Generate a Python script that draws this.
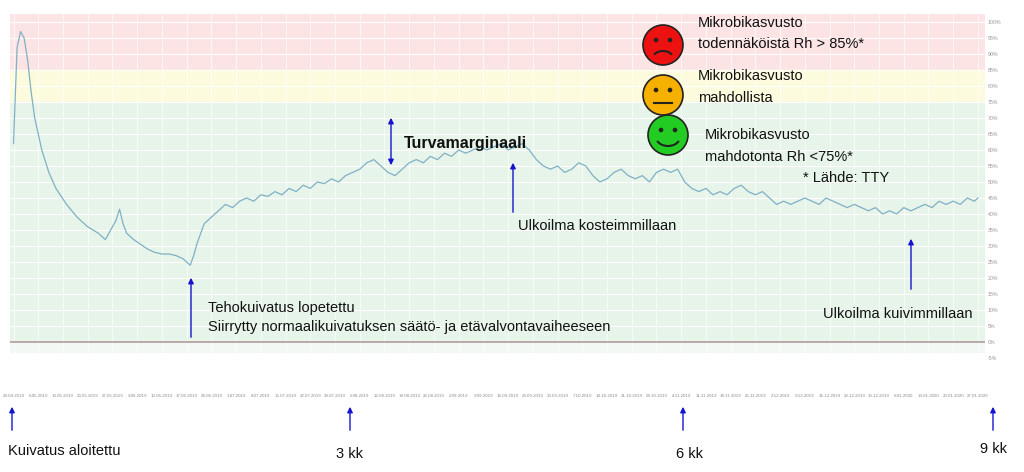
import numpy as np, pandas as pd, seaborn as sns, matplotlib
matplotlib.use("Agg")
import matplotlib.pyplot as plt
from matplotlib.patches import Circle, Arc
import datetime as dt
plt.rcParams["font.family"] = "Liberation Sans"

days = [0,1,2,3,4,5,6,8,10,12,15,18,21,24,26,27,28,29,30,31,32,34,36,38,40,42,44,46,48,49,50,51,52,53,54,56,58,60,62,64,66,68,70,72,74,76,78,80,82,84,86,88,90,92,94,96,98,100,102,104,106,108,110,112,114,116,118,120,122,124,126,128,130,132,134,136,138,140,142,144,146,148,150,152,154,156,158,160,162,164,166,168,170,172,174,176,178,180,182,184,186,188,190,192,194,196,198,200,202,204,206,208,210,212,214,216,218,220,222,224,226,228,230,232,234,236,238,240,242,244,246,248,250,252,254,256,258,260,262,264,266,268,270,272,273]
rh = [62,92,97,95,88,78,70,60,53,48,43,39,36,34,32,34,36,38,41.5,37,34,32,30.5,29,28,27.5,27.5,27,26,25,24,27,31,34,37,39,41,43,42,44,45,44,46,45.5,47,46,48,47,49,48,50,49.5,51,50,52,53,54,56,57,55,53,52,54,56,57,56,58,57,59,58,60,59,60,61,60,61,62,60,61,62,60,57,55,54,55,53,54,56,55,52,50,51,53,54,52,51,52,50,53,54,53,54,50,48,47,48,46,47,46,48,49,47,46,47,45,43,44,43,44,45,44,43,45,44,43,42,43,42,41,42,40,41,40,42,41,42,43,42,44,43,44,43,45,44,45]
start = dt.date(2019,4,29)
tick_labels = [(start+dt.timedelta(days=7*i)).strftime("%-d.%m.%Y") for i in range(40)]
y_labels = [f"{v}%" for v in range(-5,101,5)]

fig = plt.figure(figsize=(10.24,4.72), dpi=100)
ax = fig.add_axes([10/1024, 1-358/472, 975/1024, (358-14)/472])
ax.axhspan(85,103,color="#fde4e4",zorder=0)
ax.axhspan(75,85,color="#fdfbdd",zorder=0)
ax.axhspan(0,75,color="#e7f4e9",zorder=0)
ax.axhspan(-3,0,color="#f4f8f4",zorder=0)
for v in range(0,101,5):
    ax.axhline(v,color="white",lw=0.8,zorder=1)
for i in range(40):
    ax.axvline(7*i,color="white",lw=0.5,zorder=1)
ax.axhline(0,color="#b09a9a",lw=1.2,zorder=2)
df = pd.DataFrame({"day":days,"rh":rh})
sns.lineplot(data=df,x="day",y="rh",ax=ax,color="#7fb0c6",lw=0.9,zorder=3)
ax.set_xlim(-1,275); ax.set_ylim(-2,102.5)
ax.set_xticks([7*i for i in range(40)])
ax.set_xticklabels(tick_labels,fontsize=3.2,color="#888")
ax.tick_params(axis="x",length=0,pad=26)
ax.yaxis.tick_right()
ax.set_yticks(range(-5,101,5)); ax.set_yticklabels(y_labels,fontsize=3.8,color="#999")
ax.tick_params(axis="y",length=0,pad=2)
ax.set_xlabel(""); ax.set_ylabel("")
for s in ax.spines.values(): s.set_visible(False)

blue="#1515d0"
def px(x,y): return (x/1024, 1-y/472)
def farrow(x0,y0,x1,y1,both=False):
    fig.add_artist(matplotlib.patches.FancyArrowPatch(px(x0,y0),px(x1,y1),transform=fig.transFigure,
        arrowstyle="<|-|>" if both else "-|>",mutation_scale=8,color=blue,lw=1))
farrow(191,340,191,275)
farrow(391,168,391,115,both=True)
farrow(513,215,513,160)
farrow(911,292,911,236)
for x in [12,350,683,993]:
    farrow(x,433,x,404)
t=dict(fontsize=10.5,color="#111")
fig.text(*px(208,312),"Tehokuivatus lopetettu",**t)
fig.text(*px(208,331),"Siirrytty normaalikuivatuksen säätö- ja etävalvontavaiheeseen",**t)
fig.text(*px(404,148),"Turvamarginaali",fontsize=11.5,fontweight="bold",color="#111")
fig.text(*px(518,230),"Ulkoilma kosteimmillaan",**t)
fig.text(*px(823,318),"Ulkoilma kuivimmillaan",**t)
fig.text(*px(8,455),"Kuivatus aloitettu",**t)
fig.text(*px(336,458),"3 kk",**t)
fig.text(*px(676,458),"6 kk",**t)
fig.text(*px(980,453),"9 kk",**t)
fig.text(*px(698,27),"Mikrobikasvusto",**t)
fig.text(*px(698,48),"todennäköistä Rh > 85%*",**t)
fig.text(*px(698,80),"Mikrobikasvusto",**t)
fig.text(*px(698,102),"mahdollista",**t)
fig.text(*px(705,139),"Mikrobikasvusto",**t)
fig.text(*px(705,161),"mahdotonta Rh <75%*",**t)
fig.text(*px(803,182),"* Lähde: TTY",**t)

fax = fig.add_axes([0,0,1,1]); fax.set_xlim(0,1024); fax.set_ylim(472,0); fax.axis("off")
fax.set_aspect("equal")
def face(cx,cy,col,mood):
    fax.add_patch(Circle((cx,cy),20,fc=col,ec="#222",lw=1.2))
    for dx in (-7,7): fax.add_patch(Circle((cx+dx,cy-5),2.3,fc="#222"))
    if mood=="sad": fax.add_patch(Arc((cx,cy+13),20,14,theta1=200,theta2=340,lw=1.5,color="#222"))
    elif mood=="happy": fax.add_patch(Arc((cx,cy+2),24,18,theta1=20,theta2=160,lw=1.5,color="#222"))
    else: fax.plot([cx-9,cx+9],[cy+8,cy+8],color="#222",lw=1.5)
face(663,45,"#ee1111","sad")
face(663,95,"#f5b000","neutral")
face(668,135,"#22cc22","happy")
fig.savefig("out.png",dpi=100)
